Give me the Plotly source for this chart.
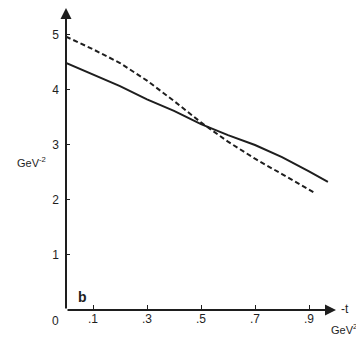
import plotly.graph_objects as go

# ---- data ----
t_solid = [0.0, 0.1, 0.2, 0.3, 0.4, 0.5, 0.6, 0.7, 0.8, 0.9, 0.97]
v_solid = [4.49, 4.28, 4.07, 3.83, 3.62, 3.38, 3.18, 3.00, 2.78, 2.52, 2.33]

t_dash = [0.0, 0.1, 0.2, 0.3, 0.4, 0.5, 0.6, 0.7, 0.8, 0.9, 0.92]
v_dash = [4.97, 4.74, 4.49, 4.17, 3.80, 3.41, 3.06, 2.75, 2.47, 2.18, 2.13]

x_tickvals = [0.1, 0.3, 0.5, 0.7, 0.9]
x_ticktext = [".1", ".3", ".5", ".7", ".9"]
y_tickvals = [1, 2, 3, 4, 5]
y_ticktext = ["1", "2", "3", "4", "5"]

W, H = 356, 338
L, R, T, B = 66, 20, 8, 28
X_MAX, Y_MAX = 1.0, 5.49

INK = "#1e1e1e"
FONT = "Liberation Sans, Arial, sans-serif"

fig = go.Figure()
fig.add_trace(go.Scatter(x=t_solid, y=v_solid, mode="lines",
                         line=dict(color=INK, width=2), showlegend=False))
fig.add_trace(go.Scatter(x=t_dash, y=v_dash, mode="lines",
                         line=dict(color=INK, width=2, dash="5px,3px"), showlegend=False))


def px(xp, yp):
    """pixel position -> paper coordinates"""
    return (xp - L) / (W - L - R), (H - B - yp) / (H - T - B)


anns = []
# axis arrows
anns.append(dict(x=X_MAX, y=0, ax=0, ay=0, xref="x", yref="y", axref="x", ayref="y",
                 showarrow=True, arrowhead=2, arrowsize=1.1, arrowwidth=2,
                 arrowcolor=INK, text=""))
anns.append(dict(x=0, y=Y_MAX, ax=0, ay=0, xref="x", yref="y", axref="x", ayref="y",
                 showarrow=True, arrowhead=2, arrowsize=1.1, arrowwidth=2,
                 arrowcolor=INK, text=""))


def label(text, xp, yp, size=11, xanchor="center", bold=False):
    x, y = px(xp, yp)
    anns.append(dict(x=x, y=y, xref="paper", yref="paper", text=text, showarrow=False,
                     xanchor=xanchor, yanchor="middle",
                     font=dict(family=FONT, size=size, color=INK,
                               weight="bold" if bold else "normal")))


label("0", 55, 321, size=12)
label("b", 82, 297, size=14, bold=True)
label("GeV<sup>-2</sup>", 31, 162, size=11)
label("-t", 339, 309, size=12, xanchor="left")
label("GeV<sup>2</sup>", 329, 329, size=11, xanchor="left")

fig.update_layout(
    width=W, height=H,
    margin=dict(l=L, r=R, t=T, b=B),
    paper_bgcolor="white", plot_bgcolor="white",
    annotations=anns,
    xaxis=dict(range=[0, X_MAX], showgrid=False, zeroline=False, showline=False,
               tickmode="array", tickvals=x_tickvals, ticktext=x_ticktext,
               ticks="inside", ticklen=5, tickwidth=1.2, tickcolor=INK,
               tickfont=dict(family=FONT, size=12, color=INK)),
    yaxis=dict(range=[0, Y_MAX], showgrid=False, zeroline=False, showline=False,
               tickmode="array", tickvals=y_tickvals, ticktext=y_ticktext,
               ticks="inside", ticklen=4, tickwidth=1.2, tickcolor=INK,
               ticklabelstandoff=6,
               tickfont=dict(family=FONT, size=12, color=INK)),
)

fig.write_html(
    "out.html",
    config={"displayModeBar": False},
    post_script="document.documentElement.style.margin='0';"
                "document.body.style.margin='0';"
                "document.body.style.overflow='hidden';",
)
